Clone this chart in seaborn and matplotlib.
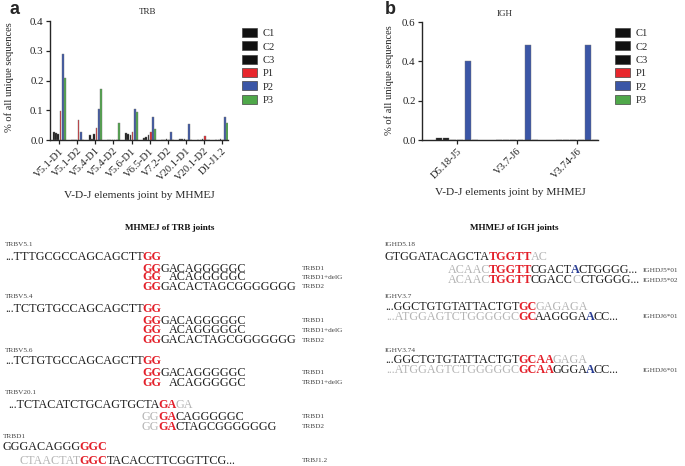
import numpy as np
import pandas as pd
import matplotlib
matplotlib.use("Agg")
import matplotlib.pyplot as plt
from matplotlib.patches import Patch
import seaborn as sns

# Bar chart data
samples = ["C1", "C2", "C3", "P1", "P2", "P3"]
sample_colors = ["#111111", "#111111", "#111111", "#e8262c", "#3b56a6", "#4fa84a"]

trb_joints = ["V5.1-D1", "V5.1-D2", "V5.4-D1", "V5.4-D2", "V5.6-D1",
              "V6.5-D1", "V7.2-D2", "V20.1-D1", "V20.1-D2", "D1-J1.2"]
trb_c1 = [0.028, 0.0, 0.016, 0.0, 0.025, 0.006, 0.0, 0.004, 0.0, 0.0]
trb_c2 = [0.022, 0.0, 0.003, 0.0, 0.020, 0.011, 0.0, 0.004, 0.0, 0.0]
trb_c3 = [0.020, 0.0, 0.020, 0.0, 0.016, 0.017, 0.003, 0.004, 0.003, 0.003]
trb_p1 = [0.097, 0.068, 0.042, 0.0, 0.028, 0.028, 0.0, 0.0, 0.013, 0.0]
trb_p2 = [0.288, 0.026, 0.105, 0.0, 0.105, 0.078, 0.027, 0.053, 0.0, 0.078]
trb_p3 = [0.210, 0.0, 0.170, 0.057, 0.095, 0.038, 0.0, 0.0, 0.0, 0.057]

igh_joints = ["D5.18-J5", "V3.7-J6", "V3.74-J6"]
igh_c1 = [0.008, 0.0, 0.0]
igh_c2 = [0.010, 0.0, 0.0]
igh_c3 = [0.0, 0.0, 0.0]
igh_p1 = [0.0, 0.0, 0.0]
igh_p2 = [0.400, 0.485, 0.485]
igh_p3 = [0.0, 0.0, 0.0]

# Sequence text: (text, style) with k=black, r=red bold, g=gray, b=blue bold
trbv51_main = [("...TTTGCGCCAGCAGCTT", "k"), ("GG", "r")]
trbv54_main = [("...TCTGTGCCAGCAGCTT", "k"), ("GG", "r")]
trbv56_main = [("...TCTGTGCCAGCAGCTT", "k"), ("GG", "r")]
trbd1_row = [("GG", "r"), ("G", "k"), ("ACAGGGGGC", "k")]
trbd1_delg_row = [("GG", "r"), ("ACAGGGGGC", "k")]
trbd2_row = [("GG", "r"), ("GACACTAGCGGGGGGG", "k")]
trbv201_main = [("...TCTACATCTGCAGTGCTA", "k"), ("GA", "r"), ("GA", "g")]
trbv201_d1 = [("GG", "g"), ("GA", "r"), ("CAGGGGGC", "k")]
trbv201_d2 = [("GG", "g"), ("GA", "r"), ("CTAGCGGGGGGG", "k")]
trbd1_main = [("GGGACAGGG", "k"), ("GGC", "r")]
trbj12_row = [("CTAACTAT", "g"), ("GGC", "r"), ("TACACCTTCGGTTCG...", "k")]

ighd518_main = [("GTGGATACAGCTA", "k"), ("TGGTT", "r"), ("AC", "g")]
ighj501_row = [("ACAAC", "g"), ("TGGTT", "r"), ("CGACT", "k"), ("A", "b"), ("CTGGGG...", "k")]
ighj502_row = [("ACAAC", "g"), ("TGGTT", "r"), ("CGACC", "k"), ("C", "g"), ("CTGGGG...", "k")]
ighv37_main = [("...GGCTGTGTATTACTGT", "k"), ("GC", "r"), ("GAGAGA", "g")]
ighj6_v37 = [("...ATGGAGTCTGGGGGC", "g"), ("GC", "r"), ("AAGGGA", "k"), ("A", "b"), ("CC...", "k")]
ighv374_main = [("...GGCTGTGTATTACTGT", "k"), ("GCAA", "r"), ("GAGA", "g")]
ighj6_v374 = [("...ATGGAGTCTGGGGGC", "g"), ("GCAA", "r"), ("GGGA", "k"), ("A", "b"), ("CC...", "k")]

sns.set_style("ticks")
plt.rcParams["font.family"] = ["Liberation Serif", "DejaVu Serif"]

W, H = 685, 466
fig = plt.figure(figsize=(6.85, 4.66), dpi=100)


def bar_panel(rect, joints, cols, ymax, ystep, xlim, title, title_xy, leg_x, ylab_xy):
    ax = fig.add_axes(rect)
    rows = []
    for s, vals in zip(samples, cols):
        for j, v in zip(joints, vals):
            rows.append({"joint": j, "sample": s, "value": v})
    df = pd.DataFrame(rows)
    sns.barplot(data=df, x="joint", y="value", hue="sample", order=joints,
                hue_order=samples, palette=sample_colors, width=0.72, gap=0.18,
                saturation=1, errorbar=None, legend=False, ax=ax,
                edgecolor="#777777", linewidth=0.3)
    ax.set_ylim(0, ymax)
    ax.set_xlim(*xlim)
    ticks = np.arange(0, ymax + 1e-9, ystep)
    ax.set_yticks(ticks)
    ax.set_yticklabels([f"{t:.1f}" for t in ticks], fontsize=7.8)
    ax.set_xticks(range(len(joints)))
    ax.set_xticklabels(joints, rotation=45, ha="right", rotation_mode="anchor", fontsize=7.6)
    ax.tick_params(length=3, width=0.9, pad=1.5, colors="#222222")
    for sp in ["left", "bottom"]:
        ax.spines[sp].set_linewidth(1.0)
    sns.despine(ax=ax)
    ax.set_xlabel("V-D-J elements joint by MHMEJ", fontsize=8.2, labelpad=6)
    ax.set_ylabel("% of all unique sequences", fontsize=7.6)
    ax.yaxis.set_label_coords(*ylab_xy)
    ax.text(title_xy[0], title_xy[1], title, transform=ax.transAxes,
            ha="center", va="center", fontsize=6.5)
    handles = [Patch(facecolor=c, edgecolor="#444444", linewidth=0.5) for c in sample_colors]
    ax.legend(handles, samples, loc="upper left", bbox_to_anchor=(leg_x / W, 1 - 28 / H),
              bbox_transform=fig.transFigure, frameon=False, borderpad=0,
              borderaxespad=0, handlelength=1.45, handleheight=0.95,
              handletextpad=0.5, labelspacing=0.3, fontsize=7.6)
    return ax


bar_panel([50 / W, 1 - 140 / H, 178 / W, 119 / H], trb_joints,
          [trb_c1, trb_c2, trb_c3, trb_p1, trb_p2, trb_p3], 0.4, 0.1,
          (-0.52, 9.35), "TRB", (0.55, 1.075), 242, (-0.2, 0.53))
bar_panel([422 / W, 1 - 140 / H, 176 / W, 118 / H], igh_joints,
          [igh_c1, igh_c2, igh_c3, igh_p1, igh_p2, igh_p3], 0.6, 0.2,
          (-0.58, 2.35), "IGH", (0.47, 1.07), 615, (-0.16, 0.51))

fig.text(10 / W, 1 - 10 / H, "a", fontsize=13, fontweight="bold",
         family="Liberation Sans", ha="left", va="center")
fig.text(385 / W, 1 - 10 / H, "b", fontsize=13, fontweight="bold",
         family="Liberation Sans", ha="left", va="center")

# Text panels drawn in pixel coordinates
tax = fig.add_axes([0, 0, 1, 1])
tax.set_xlim(0, W)
tax.set_ylim(H, 0)
tax.axis("off")

SEQ_FS = 8.7
LAB_FS = 5.2
STYLE = {"k": ("#1e1e1e", "normal"), "r": ("#e3202a", "bold"),
         "g": ("#b4b4b4", "normal"), "b": ("#263a92", "bold")}
BOLD_GAP = 1.3 * 0.72   # small pull-in where a bold piece meets a plain one (pt)


def kw(st):
    c, w = STYLE[st]
    return dict(color=c, fontweight=w, fontsize=SEQ_FS)


def nudge(a, b):
    return BOLD_GAP if (STYLE[a][1] == "bold" or STYLE[b][1] == "bold") else 0.0


def chain(first, first_st, segs):
    arts = [first]
    prev_st = first_st
    for txt, st in segs:
        arts.append(tax.annotate(txt, xy=(1, 0), xycoords=arts[-1],
                                 xytext=(-nudge(prev_st, st), 0), textcoords="offset points",
                                 va="bottom", ha="left", **kw(st)))
        prev_st = st
    return arts


def row_at(x, y, segs):
    txt, st = segs[0]
    first = tax.text(x, y, txt, va="center", ha="left", **kw(st))
    return chain(first, st, segs[1:])


def row_under(anchor, dy, segs, k):
    txt, st = segs[k]
    key = tax.annotate(txt, xy=(0, 0), xycoords=anchor, xytext=(0, -dy * 0.72),
                       textcoords="offset points", va="bottom", ha="left", **kw(st))
    left = []
    prev, prev_st = key, st
    for t, s in reversed(segs[:k]):
        prev = tax.annotate(t, xy=(0, 0), xycoords=prev, xytext=(nudge(s, prev_st), 0),
                            textcoords="offset points", va="bottom", ha="right", **kw(s))
        prev_st = s
        left.insert(0, prev)
    return left + chain(key, st, segs[k + 1:])


def label(x, y, txt):
    tax.text(x, y, txt, fontsize=LAB_FS, color="#444444", ha="left", va="center")


tax.text(170, 228, "MHMEJ of TRB joints", fontsize=6.6, fontweight="bold",
         ha="center", va="center", color="#111111")
tax.text(514, 228, "MHMEJ of IGH joints", fontsize=6.6, fontweight="bold",
         ha="center", va="center", color="#111111")

# TRB blocks
for name, ly, my, main, offs in [("TRBV5.1", 244, 257, trbv51_main, [11.7, 20.5, 30]),
                                 ("TRBV5.4", 296, 309, trbv54_main, [12, 21, 31]),
                                 ("TRBV5.6", 350, 361, trbv56_main, [12, 22])]:
    label(5, ly, name)
    m = row_at(5, my, main)
    r1 = row_under(m[-1], offs[0], trbd1_row, 0)
    row_under(m[-1], offs[1], trbd1_delg_row[:1], 0)
    row_under(r1[2], offs[1] - offs[0], trbd1_delg_row[1:], 0)
    label(302, my + offs[0], "TRBD1")
    label(302, my + offs[1], "TRBD1+delG")
    if len(offs) > 2:
        row_under(m[-1], offs[2], trbd2_row, 0)
        label(302, my + offs[2], "TRBD2")

label(5, 393, "TRBV20.1")
m = row_at(8, 405, trbv201_main)
row_under(m[1], 12, trbv201_d1, 1)
row_under(m[1], 22, trbv201_d2, 1)
label(302, 417, "TRBD1")
label(302, 427, "TRBD2")

label(3, 436, "TRBD1")
m = row_at(3, 447, trbd1_main)
row_under(m[1], 13.5, trbj12_row, 1)
label(302, 460.5, "TRBJ1.2")

# IGH blocks
label(385, 245, "IGHD5.18")
m = row_at(385, 257, ighd518_main)
row_under(m[1], 13, ighj501_row, 1)
row_under(m[1], 23, ighj502_row, 1)
label(643, 270, "IGHDJ5*01")
label(643, 280, "IGHDJ5*02")

label(385, 296, "IGHV3.7")
m = row_at(385, 307, ighv37_main)
row_under(m[1], 10, ighj6_v37, 1)
label(643, 317, "IGHDJ6*01")

label(385, 350, "IGHV3.74")
m = row_at(385, 360, ighv374_main)
row_under(m[1], 10, ighj6_v374, 1)
label(643, 370, "IGHDJ6*01")

fig.savefig("out.png", dpi=100)
